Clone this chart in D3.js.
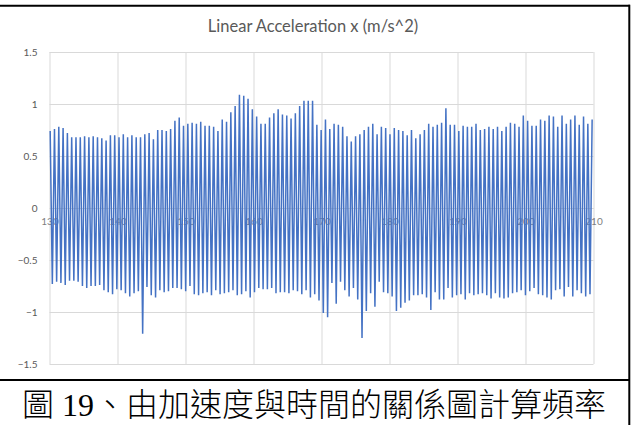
<!DOCTYPE html>
<html>
<head>
<meta charset="utf-8">
<script src="https://cdn.jsdelivr.net/npm/d3@7"></script>
<style>
body { margin: 0; background: #fff; }
</style>
</head>
<body>
<script>
const w = 635; // width
const h = 425; // height

const title = "Linear Acceleration x (m/s^2)";
const caption = "圖 19、由加速度與時間的關係圖計算頻率";
const xTicks = [130, 140, 150, 160, 170, 180, 190, 200, 210];
const yTicks = [-1.5, -1, -0.5, 0, 0.5, 1, 1.5];

// time span of the recording (s)
const tStart = 130.1;
const tEnd = 209.8;

// maximum of each oscillation
const peaks = [
    0.74, 0.76, 0.78, 0.77, 0.72, 0.68, 0.68, 0.68, 0.69, 0.68,
    0.69, 0.68, 0.67, 0.65, 0.70, 0.70, 0.68, 0.71, 0.68, 0.70,
    0.68, 0.68, 0.71, 0.72, 0.66, 0.75, 0.75, 0.74, 0.76, 0.84,
    0.87, 0.79, 0.81, 0.82, 0.81, 0.83, 0.79, 0.79, 0.78, 0.74,
    0.85, 0.83, 0.92, 0.98, 1.09, 1.08, 1.05, 0.95, 0.88, 0.81,
    0.81, 0.87, 0.91, 0.95, 0.90, 0.89, 0.86, 0.91, 0.98, 1.03,
    1.03, 1.03, 0.80,
    0.75, 0.85, 0.76, 0.81, 0.80, 0.78, 0.69, 0.64, 0.69, 0.71,
    0.75, 0.78, 0.81, 0.71, 0.78, 0.77, 0.71, 0.77, 0.75, 0.74,
    0.70, 0.75, 0.67, 0.71, 0.75, 0.81, 0.78, 0.80, 0.82, 0.96,
    0.80, 0.80, 0.74, 0.79, 0.78, 0.78, 0.81, 0.75, 0.76, 0.78,
    0.76, 0.78, 0.74, 0.78, 0.82, 0.81, 0.78, 0.89, 0.84, 0.79,
    0.79, 0.85, 0.84, 0.89, 0.88, 0.78, 0.89, 0.81, 0.85, 0.89,
    0.80, 0.88, 0.81, 0.85
];

// minimum of each oscillation
const troughs = [
    -0.73, -0.71, -0.72, -0.74, -0.70, -0.70, -0.71, -0.75, -0.77, -0.75,
    -0.75, -0.74, -0.79, -0.81, -0.83, -0.78, -0.79, -0.82, -0.85, -0.82,
    -0.80, -1.21, -0.76, -0.84, -0.86, -0.79, -0.81, -0.80, -0.77, -0.77,
    -0.78, -0.80, -0.75, -0.83, -0.84, -0.82, -0.81, -0.84, -0.79, -0.83,
    -0.82, -0.81, -0.79, -0.84, -0.83, -0.80, -0.86, -0.81, -0.77, -0.78,
    -0.78, -0.77, -0.82, -0.81, -0.81, -0.82, -0.79, -0.80, -0.83, -0.79,
    -0.86, -0.83, -0.89,
    -1.01, -1.05, -0.72, -0.92, -0.71, -0.79, -0.85, -0.77, -0.88,
    -1.25, -0.99, -0.82, -0.95, -0.71, -0.81, -0.82, -0.85, -0.99, -0.96,
    -0.91, -0.89, -0.84, -0.84, -0.83, -0.86, -0.98, -0.81, -0.88, -0.88,
    -0.77, -0.86, -0.84, -0.83, -0.88, -0.82, -0.84, -0.83, -0.82, -0.84,
    -0.87, -0.82, -0.86, -0.87, -0.86, -0.82, -0.81, -0.79, -0.84, -0.80,
    -0.77, -0.83, -0.84, -0.86, -0.88, -0.79, -0.78, -0.85, -0.76, -0.85,
    -0.79, -0.82, -0.85, -0.83
];

// plot area
const pl = 49.5, pr = 593.5, pt = 52, pb = 364;

let svg = d3.select("body")
    .append("svg")
    .attr('width', w)
    .attr('height', h)
    .style('display', 'block');

svg.append('rect')
    .attr('width', w)
    .attr('height', h)
    .attr('fill', '#fff');

// scales
let x = d3.scaleLinear().domain([130, 210]).range([pl, pr]);
let y = d3.scaleLinear().domain([-1.5, 1.5]).range([pb, pt]);

// alternate max / min samples of the signal
let signal = [];
peaks.forEach((p, i) => {
    signal.push(p);
    if (i < troughs.length) signal.push(troughs[i]);
});
let t = d3.scaleLinear().domain([0, signal.length - 1]).range([tStart, tEnd]);

// horizontal gridlines + y labels
svg.append('g')
    .attr('class', 'y-axis')
    .attr('transform', `translate(${pl},0)`)
    .call(d3.axisLeft(y).tickValues(yTicks).tickSize(-(pr - pl)).tickPadding(12)
        .tickFormat(d => d3.format('')(d)))
    .call(g => g.select('.domain').remove())
    .call(g => g.selectAll('line').attr('stroke', '#d9d9d9'))
    .call(g => g.selectAll('text').attr('fill', '#595959')
        .style('font-family', 'Lato, sans-serif').style('font-size', '10px'));

// vertical gridlines
svg.append('g')
    .attr('class', 'x-grid')
    .attr('transform', `translate(0,${pb})`)
    .call(d3.axisBottom(x).tickValues(xTicks).tickSize(-(pb - pt)).tickFormat(''))
    .call(g => g.select('.domain').remove())
    .call(g => g.selectAll('line').attr('stroke', '#d9d9d9'));

// x labels sit on the zero line
svg.append('g')
    .attr('class', 'x-axis')
    .attr('transform', `translate(0,${y(0)})`)
    .call(d3.axisBottom(x).tickValues(xTicks).tickSize(0).tickPadding(10))
    .call(g => g.select('.domain').attr('stroke', '#d9d9d9'))
    .call(g => g.selectAll('text').attr('fill', '#7f7f7f')
        .style('font-family', 'Lato, sans-serif').style('font-size', '10px'));

// the signal
svg.append('path')
    .datum(signal)
    .attr('fill', 'none')
    .attr('stroke', '#4472c4')
    .attr('stroke-width', 1.5)
    .attr('stroke-linejoin', 'miter')
    .attr('d', d3.line().x((d, i) => x(t(i))).y(d => y(d)));

// title
svg.append('text')
    .attr('x', 313)
    .attr('y', 32)
    .attr('text-anchor', 'middle')
    .attr('fill', '#595959')
    .style('font-family', 'Lato, sans-serif')
    .style('font-size', '16.5px')
    .text(title);

// table borders
svg.append('line').attr('x1', 0).attr('x2', 630).attr('y1', 5.7).attr('y2', 5.7)
    .attr('stroke', '#000').attr('stroke-width', 2);
svg.append('line').attr('x1', 629.3).attr('x2', 629.3).attr('y1', 4.7).attr('y2', h)
    .attr('stroke', '#000').attr('stroke-width', 2);
svg.append('line').attr('x1', 0).attr('x2', 630).attr('y1', 380).attr('y2', 380)
    .attr('stroke', '#000').attr('stroke-width', 2);

// caption
svg.append('text')
    .attr('x', 314)
    .attr('y', 416)
    .attr('text-anchor', 'middle')
    .attr('fill', '#000')
    .style('font-family', '"Liberation Serif", "Noto Sans CJK TC", serif')
    .style('font-weight', 300)
    .style('font-size', '32px')
    .text(caption);
</script>
</body>
</html>
